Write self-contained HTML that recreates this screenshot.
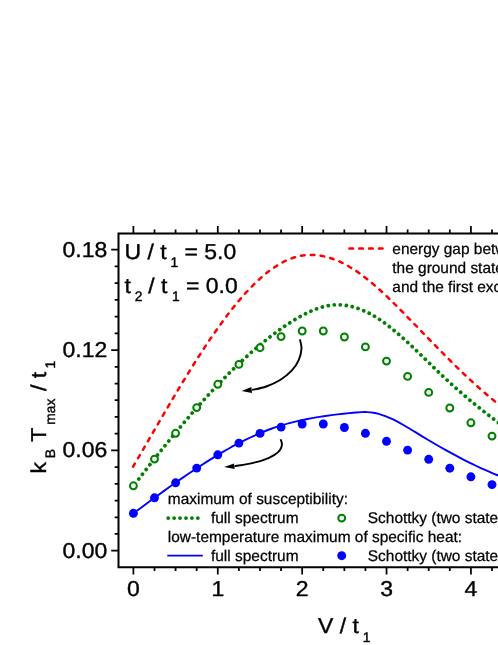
<!DOCTYPE html>
<html><head><meta charset="utf-8"><title>chart</title>
<style>
html,body{margin:0;padding:0;background:#fff;}
body{width:498px;height:645px;overflow:hidden;font-family:"Liberation Sans",sans-serif;}
svg{display:block;will-change:transform;opacity:0.9999;}
text{font-family:"Liberation Sans",sans-serif;fill:#000;stroke:#000;stroke-width:0.4px;text-rendering:geometricPrecision;}
.lg{stroke-width:0.25px;}
g text{white-space:pre;}
</style></head><body>
<svg width="498" height="645" viewBox="0 0 498 645">
<rect width="498" height="645" fill="#fff"/>

<path d="M133.00 466.77 C134.00 465.06 137.00 459.94 139.00 456.51 C141.00 453.08 143.00 449.64 145.00 446.20 C147.00 442.76 149.00 439.32 151.00 435.88 C153.00 432.44 155.00 428.99 157.00 425.56 C159.00 422.13 161.00 418.70 163.00 415.29 C165.00 411.87 167.00 408.47 169.00 405.08 C171.00 401.69 173.00 398.32 175.00 394.97 C177.00 391.62 179.00 388.28 181.00 384.98 C183.00 381.68 185.00 378.39 187.00 375.14 C189.00 371.90 191.00 368.67 193.00 365.49 C195.00 362.31 197.00 359.15 199.00 356.05 C201.00 352.94 203.00 349.86 205.00 346.84 C207.00 343.81 209.00 340.83 211.00 337.90 C213.00 334.97 215.00 332.08 217.00 329.26 C219.00 326.43 221.00 323.65 223.00 320.94 C225.00 318.23 227.00 315.57 229.00 312.98 C231.00 310.39 233.00 307.86 235.00 305.40 C237.00 302.94 239.00 300.55 241.00 298.23 C243.00 295.92 245.00 293.68 247.00 291.51 C249.00 289.35 251.00 287.26 253.00 285.27 C255.00 283.27 257.00 281.35 259.00 279.52 C261.00 277.69 263.00 275.95 265.00 274.30 C267.00 272.66 269.00 271.10 271.00 269.65 C273.00 268.20 275.00 266.84 277.00 265.58 C279.00 264.33 281.00 263.18 283.00 262.14 C285.00 261.10 287.00 260.16 289.00 259.34 C291.00 258.52 293.00 257.81 295.00 257.22 C297.00 256.63 299.00 256.16 301.00 255.79 C303.00 255.43 305.00 255.18 307.00 255.04 C309.00 254.90 311.00 254.87 313.00 254.94 C315.00 255.01 317.00 255.18 319.00 255.46 C321.00 255.73 323.00 256.10 325.00 256.57 C327.00 257.04 329.00 257.61 331.00 258.26 C333.00 258.91 335.00 259.66 337.00 260.49 C339.00 261.33 341.00 262.25 343.00 263.25 C345.00 264.25 347.00 265.34 349.00 266.50 C351.00 267.67 353.00 268.91 355.00 270.23 C357.00 271.54 359.00 272.94 361.00 274.40 C363.00 275.86 365.00 277.39 367.00 278.98 C369.00 280.56 371.00 282.22 373.00 283.92 C375.00 285.62 377.00 287.38 379.00 289.18 C381.00 290.97 383.00 292.82 385.00 294.70 C387.00 296.58 389.00 298.50 391.00 300.45 C393.00 302.39 395.00 304.37 397.00 306.37 C399.00 308.36 401.00 310.38 403.00 312.41 C405.00 314.44 407.00 316.49 409.00 318.54 C411.00 320.58 413.00 322.64 415.00 324.70 C417.00 326.75 419.00 328.82 421.00 330.88 C423.00 332.93 425.00 335.00 427.00 337.05 C429.00 339.11 431.00 341.16 433.00 343.21 C435.00 345.25 437.00 347.30 439.00 349.33 C441.00 351.36 443.00 353.38 445.00 355.39 C447.00 357.40 449.00 359.40 451.00 361.38 C453.00 363.37 455.00 365.34 457.00 367.28 C459.00 369.23 461.00 371.17 463.00 373.08 C465.00 374.99 467.00 376.88 469.00 378.74 C471.00 380.61 473.00 382.45 475.00 384.27 C477.00 386.08 479.00 387.87 481.00 389.63 C483.00 391.39 485.00 393.12 487.00 394.81 C489.00 396.51 491.00 398.18 493.00 399.80 C495.00 401.43 497.00 403.02 499.00 404.58 C501.00 406.13 503.33 407.88 505.00 409.12 C506.67 410.35 508.33 411.52 509.00 412.01" fill="none" stroke="#ff0000" stroke-width="2.5" stroke-linecap="round" stroke-dasharray="3.7 6.13"/>
<path d="M133.40 486.04 C134.40 484.74 137.40 480.81 139.40 478.22 C141.40 475.62 143.40 473.03 145.40 470.45 C147.40 467.88 149.40 465.32 151.40 462.77 C153.40 460.22 155.40 457.69 157.40 455.17 C159.40 452.65 161.40 450.15 163.40 447.66 C165.40 445.17 167.40 442.70 169.40 440.24 C171.40 437.79 173.40 435.35 175.40 432.93 C177.40 430.51 179.40 428.11 181.40 425.73 C183.40 423.35 185.40 420.99 187.40 418.65 C189.40 416.31 191.40 413.99 193.40 411.69 C195.40 409.40 197.40 407.12 199.40 404.87 C201.40 402.62 203.40 400.39 205.40 398.18 C207.40 395.98 209.40 393.80 211.40 391.64 C213.40 389.49 215.40 387.36 217.40 385.25 C219.40 383.15 221.40 381.07 223.40 379.03 C225.40 376.98 227.40 374.96 229.40 372.97 C231.40 370.97 233.40 369.01 235.40 367.08 C237.40 365.15 239.40 363.24 241.40 361.37 C243.40 359.50 245.40 357.66 247.40 355.86 C249.40 354.05 251.40 352.27 253.40 350.53 C255.40 348.79 257.40 347.08 259.40 345.41 C261.40 343.74 263.40 342.10 265.40 340.50 C267.40 338.90 269.40 337.33 271.40 335.80 C273.40 334.27 275.40 332.78 277.40 331.33 C279.40 329.87 281.40 328.46 283.40 327.08 C285.40 325.71 287.40 324.37 289.40 323.08 C291.40 321.78 293.40 320.52 295.40 319.32 C297.40 318.11 299.40 316.95 301.40 315.85 C303.40 314.76 305.40 313.71 307.40 312.75 C309.40 311.79 311.40 310.88 313.40 310.07 C315.40 309.26 317.40 308.52 319.40 307.88 C321.40 307.24 323.40 306.68 325.40 306.24 C327.40 305.80 329.40 305.45 331.40 305.22 C333.40 304.99 335.40 304.87 337.40 304.85 C339.40 304.84 341.40 304.94 343.40 305.13 C345.40 305.33 347.40 305.64 349.40 306.05 C351.40 306.45 353.40 306.96 355.40 307.57 C357.40 308.18 359.40 308.88 361.40 309.68 C363.40 310.49 365.40 311.39 367.40 312.38 C369.40 313.36 371.40 314.45 373.40 315.62 C375.40 316.79 377.40 318.05 379.40 319.39 C381.40 320.72 383.40 322.14 385.40 323.61 C387.40 325.09 389.40 326.64 391.40 328.24 C393.40 329.84 395.40 331.51 397.40 333.22 C399.40 334.93 401.40 336.69 403.40 338.49 C405.40 340.28 407.40 342.12 409.40 343.98 C411.40 345.84 413.40 347.74 415.40 349.65 C417.40 351.56 419.40 353.50 421.40 355.44 C423.40 357.37 425.40 359.33 427.40 361.28 C429.40 363.23 431.40 365.18 433.40 367.12 C435.40 369.06 437.40 371.00 439.40 372.90 C441.40 374.81 443.40 376.71 445.40 378.57 C447.40 380.43 449.40 382.27 451.40 384.08 C453.40 385.90 455.40 387.68 457.40 389.45 C459.40 391.21 461.40 392.95 463.40 394.66 C465.40 396.38 467.40 398.07 469.40 399.75 C471.40 401.42 473.40 403.07 475.40 404.70 C477.40 406.34 479.40 407.95 481.40 409.54 C483.40 411.14 485.40 412.72 487.40 414.28 C489.40 415.84 491.40 417.38 493.40 418.91 C495.40 420.44 497.40 421.95 499.40 423.45 C501.40 424.95 503.63 426.60 505.40 427.91 C507.17 429.21 509.23 430.71 510.00 431.28" fill="none" stroke="#008000" stroke-width="3.8" stroke-linecap="round" stroke-dasharray="0.01 6.05" stroke-dashoffset="-2.8"/>
<path d="M133.40 513.31 C134.40 512.57 137.40 510.37 139.40 508.90 C141.40 507.42 143.40 505.95 145.40 504.49 C147.40 503.02 149.40 501.55 151.40 500.09 C153.40 498.63 155.40 497.17 157.40 495.72 C159.40 494.26 161.40 492.81 163.40 491.37 C165.40 489.93 167.40 488.50 169.40 487.07 C171.40 485.64 173.40 484.22 175.40 482.82 C177.40 481.41 179.40 480.01 181.40 478.62 C183.40 477.23 185.40 475.86 187.40 474.49 C189.40 473.13 191.40 471.78 193.40 470.44 C195.40 469.10 197.40 467.78 199.40 466.47 C201.40 465.17 203.40 463.87 205.40 462.60 C207.40 461.33 209.40 460.07 211.40 458.83 C213.40 457.59 215.40 456.37 217.40 455.17 C219.40 453.97 221.40 452.79 223.40 451.63 C225.40 450.48 227.40 449.34 229.40 448.23 C231.40 447.11 233.40 446.02 235.40 444.96 C237.40 443.89 239.40 442.85 241.40 441.84 C243.40 440.82 245.40 439.83 247.40 438.87 C249.40 437.91 251.40 436.98 253.40 436.08 C255.40 435.17 257.40 434.30 259.40 433.45 C261.40 432.61 263.40 431.79 265.40 431.01 C267.40 430.23 269.40 429.48 271.40 428.77 C273.40 428.05 275.40 427.37 277.40 426.71 C279.40 426.06 281.40 425.44 283.40 424.85 C285.40 424.25 287.40 423.69 289.40 423.15 C291.40 422.61 293.40 422.10 295.40 421.62 C297.40 421.13 299.40 420.67 301.40 420.23 C303.40 419.79 305.40 419.38 307.40 418.98 C309.40 418.59 311.40 418.21 313.40 417.86 C315.40 417.50 317.40 417.17 319.40 416.85 C321.40 416.53 323.40 416.23 325.40 415.94 C327.40 415.65 329.40 415.38 331.40 415.12 C333.40 414.86 335.40 414.61 337.40 414.37 C339.40 414.14 341.40 413.91 343.40 413.70 C345.40 413.48 347.40 413.27 349.40 413.07 C351.40 412.87 353.40 412.66 355.40 412.50 C357.40 412.35 359.40 412.18 361.40 412.12 C363.40 412.06 365.40 412.03 367.40 412.13 C369.40 412.23 371.40 412.41 373.40 412.73 C375.40 413.05 377.40 413.51 379.40 414.06 C381.40 414.62 383.40 415.30 385.40 416.06 C387.40 416.82 389.40 417.69 391.40 418.61 C393.40 419.54 395.40 420.56 397.40 421.62 C399.40 422.67 401.40 423.80 403.40 424.95 C405.40 426.10 407.40 427.31 409.40 428.51 C411.40 429.72 413.40 430.96 415.40 432.18 C417.40 433.41 419.40 434.64 421.40 435.85 C423.40 437.06 425.40 438.27 427.40 439.46 C429.40 440.65 431.40 441.84 433.40 443.01 C435.40 444.18 437.40 445.34 439.40 446.48 C441.40 447.63 443.40 448.76 445.40 449.88 C447.40 451.00 449.40 452.11 451.40 453.20 C453.40 454.29 455.40 455.36 457.40 456.42 C459.40 457.48 461.40 458.52 463.40 459.55 C465.40 460.57 467.40 461.58 469.40 462.57 C471.40 463.56 473.40 464.54 475.40 465.49 C477.40 466.44 479.40 467.37 481.40 468.29 C483.40 469.20 485.40 470.09 487.40 470.96 C489.40 471.83 491.40 472.68 493.40 473.51 C495.40 474.34 497.40 475.14 499.40 475.92 C501.40 476.70 503.63 477.54 505.40 478.19 C507.17 478.84 509.23 479.56 510.00 479.83" fill="none" stroke="#0000ff" stroke-width="1.9"/>
<circle cx="133.4" cy="485.8" r="3.45" fill="#fff" stroke="#008000" stroke-width="2"/>
<circle cx="154.5" cy="459.1" r="3.45" fill="#fff" stroke="#008000" stroke-width="2"/>
<circle cx="175.6" cy="433.3" r="3.45" fill="#fff" stroke="#008000" stroke-width="2"/>
<circle cx="196.7" cy="407.6" r="3.45" fill="#fff" stroke="#008000" stroke-width="2"/>
<circle cx="217.8" cy="384.3" r="3.45" fill="#fff" stroke="#008000" stroke-width="2"/>
<circle cx="238.9" cy="364.4" r="3.45" fill="#fff" stroke="#008000" stroke-width="2"/>
<circle cx="260.0" cy="347.7" r="3.45" fill="#fff" stroke="#008000" stroke-width="2"/>
<circle cx="281.1" cy="336.6" r="3.45" fill="#fff" stroke="#008000" stroke-width="2"/>
<circle cx="302.2" cy="331.0" r="3.45" fill="#fff" stroke="#008000" stroke-width="2"/>
<circle cx="323.3" cy="331.0" r="3.45" fill="#fff" stroke="#008000" stroke-width="2"/>
<circle cx="344.4" cy="337.0" r="3.45" fill="#fff" stroke="#008000" stroke-width="2"/>
<circle cx="365.4" cy="346.9" r="3.45" fill="#fff" stroke="#008000" stroke-width="2"/>
<circle cx="386.5" cy="361.1" r="3.45" fill="#fff" stroke="#008000" stroke-width="2"/>
<circle cx="407.6" cy="376.4" r="3.45" fill="#fff" stroke="#008000" stroke-width="2"/>
<circle cx="428.7" cy="392.4" r="3.45" fill="#fff" stroke="#008000" stroke-width="2"/>
<circle cx="449.8" cy="408.0" r="3.45" fill="#fff" stroke="#008000" stroke-width="2"/>
<circle cx="470.9" cy="422.8" r="3.45" fill="#fff" stroke="#008000" stroke-width="2"/>
<circle cx="492.0" cy="436.1" r="3.45" fill="#fff" stroke="#008000" stroke-width="2"/>
<circle cx="513.1" cy="448.0" r="3.45" fill="#fff" stroke="#008000" stroke-width="2"/>
<circle cx="133.4" cy="513.3" r="4.45" fill="#0000ff"/>
<circle cx="154.5" cy="497.8" r="4.45" fill="#0000ff"/>
<circle cx="175.6" cy="482.8" r="4.45" fill="#0000ff"/>
<circle cx="196.7" cy="468.1" r="4.45" fill="#0000ff"/>
<circle cx="217.8" cy="454.8" r="4.45" fill="#0000ff"/>
<circle cx="238.9" cy="443.1" r="4.45" fill="#0000ff"/>
<circle cx="260.0" cy="433.4" r="4.45" fill="#0000ff"/>
<circle cx="281.1" cy="427.1" r="4.45" fill="#0000ff"/>
<circle cx="302.2" cy="424.0" r="4.45" fill="#0000ff"/>
<circle cx="323.3" cy="424.0" r="4.45" fill="#0000ff"/>
<circle cx="344.4" cy="427.5" r="4.45" fill="#0000ff"/>
<circle cx="365.4" cy="433.3" r="4.45" fill="#0000ff"/>
<circle cx="386.5" cy="441.3" r="4.45" fill="#0000ff"/>
<circle cx="407.6" cy="450.1" r="4.45" fill="#0000ff"/>
<circle cx="428.7" cy="459.3" r="4.45" fill="#0000ff"/>
<circle cx="449.8" cy="468.2" r="4.45" fill="#0000ff"/>
<circle cx="470.9" cy="476.8" r="4.45" fill="#0000ff"/>
<circle cx="492.0" cy="484.6" r="4.45" fill="#0000ff"/>
<circle cx="513.1" cy="491.5" r="4.45" fill="#0000ff"/>
<path d="M299.90 339.30 C300.17 340.85 301.70 345.12 301.50 348.60 C301.30 352.08 300.33 356.52 298.70 360.20 C297.07 363.88 294.80 367.40 291.70 370.70 C288.60 374.00 284.35 377.37 280.10 380.00 C275.85 382.63 270.85 384.83 266.20 386.50 C261.55 388.17 254.53 389.42 252.20 390.00" fill="none" stroke="#000" stroke-width="1.9"/>
<path d="M241.6 391.1 L251.4 386.9 L252 393 Z" fill="#000"/>
<path d="M280.60 439.20 C280.82 439.93 281.80 442.20 281.90 443.60 C282.00 445.00 281.75 446.27 281.20 447.60 C280.65 448.93 279.73 450.38 278.60 451.60 C277.47 452.82 276.00 453.85 274.40 454.90 C272.80 455.95 270.87 457.03 269.00 457.90 C267.13 458.77 265.53 459.35 263.20 460.10 C260.87 460.85 257.68 461.73 255.00 462.40 C252.32 463.07 250.52 463.47 247.10 464.10 C243.68 464.73 236.60 465.85 234.50 466.20" fill="none" stroke="#000" stroke-width="1.9"/>
<path d="M224.1 467 L234 463.4 L234.7 469.1 Z" fill="#000"/>
<path d="M520.0 233.4 H118.5 V567.3 H520.0" fill="none" stroke="#000" stroke-width="2"/>
<path d="M133.40 567.3 v7.3 M133.40 233.4 v-7.3 M154.50 567.3 v3.8 M154.50 233.4 v-3.8 M175.59 567.3 v3.8 M175.59 233.4 v-3.8 M196.69 567.3 v3.8 M196.69 233.4 v-3.8 M217.78 567.3 v7.3 M217.78 233.4 v-7.3 M238.88 567.3 v3.8 M238.88 233.4 v-3.8 M259.97 567.3 v3.8 M259.97 233.4 v-3.8 M281.06 567.3 v3.8 M281.06 233.4 v-3.8 M302.16 567.3 v7.3 M302.16 233.4 v-7.3 M323.25 567.3 v3.8 M323.25 233.4 v-3.8 M344.35 567.3 v3.8 M344.35 233.4 v-3.8 M365.44 567.3 v3.8 M365.44 233.4 v-3.8 M386.54 567.3 v7.3 M386.54 233.4 v-7.3 M407.63 567.3 v3.8 M407.63 233.4 v-3.8 M428.73 567.3 v3.8 M428.73 233.4 v-3.8 M449.82 567.3 v3.8 M449.82 233.4 v-3.8 M470.92 567.3 v7.3 M470.92 233.4 v-7.3 M492.01 567.3 v3.8 M492.01 233.4 v-3.8 M513.11 567.3 v3.8 M513.11 233.4 v-3.8 M118.5 550.70 h-7.3 M118.5 533.98 h-3.8 M118.5 517.26 h-3.8 M118.5 500.54 h-3.8 M118.5 483.82 h-3.8 M118.5 467.10 h-3.8 M118.5 450.38 h-7.3 M118.5 433.66 h-3.8 M118.5 416.94 h-3.8 M118.5 400.22 h-3.8 M118.5 383.50 h-3.8 M118.5 366.78 h-3.8 M118.5 350.06 h-7.3 M118.5 333.34 h-3.8 M118.5 316.62 h-3.8 M118.5 299.90 h-3.8 M118.5 283.18 h-3.8 M118.5 266.46 h-3.8 M118.5 249.74 h-7.3" fill="none" stroke="#000" stroke-width="1.75"/>
<text transform="translate(133.40 595.70) scale(1 0.935)" font-size="23" text-anchor="middle">0</text>
<text transform="translate(217.78 595.70) scale(1 0.935)" font-size="23" text-anchor="middle">1</text>
<text transform="translate(302.16 595.70) scale(1 0.935)" font-size="23" text-anchor="middle">2</text>
<text transform="translate(386.54 595.70) scale(1 0.935)" font-size="23" text-anchor="middle">3</text>
<text transform="translate(470.92 595.70) scale(1 0.935)" font-size="23" text-anchor="middle">4</text>
<text transform="translate(107.30 557.65) scale(1 0.935)" font-size="23" text-anchor="end">0.00</text>
<text transform="translate(107.30 457.33) scale(1 0.935)" font-size="23" text-anchor="end">0.06</text>
<text transform="translate(107.30 357.01) scale(1 0.935)" font-size="23" text-anchor="end">0.12</text>
<text transform="translate(107.30 256.69) scale(1 0.935)" font-size="23" text-anchor="end">0.18</text>
<g transform="translate(124.40 258.50)" style="font-kerning:none"><text transform="translate(0.00 0) scale(1 0.935)" font-size="23" xml:space="preserve">U / t</text><text x="42.18" y="8.6" font-size="13.8" xml:space="preserve"> 1</text><text transform="translate(53.69 0) scale(1 0.935)" font-size="23" xml:space="preserve"> = 5.0</text></g>
<g transform="translate(124.60 292.80)" style="font-kerning:none"><text transform="translate(0.00 0) scale(1 0.935)" font-size="23" xml:space="preserve">t</text><text x="6.39" y="8.6" font-size="13.8" xml:space="preserve"> 2</text><text transform="translate(17.20 0) scale(1 0.935)" font-size="23" xml:space="preserve"> / t</text><text x="43.48" y="8.6" font-size="13.8" xml:space="preserve"> 1</text><text transform="translate(54.99 0) scale(1 0.935)" font-size="23" xml:space="preserve"> = 0.0</text></g>
<g transform="translate(318.10 633.20)" style="font-kerning:none"><text transform="translate(0.00 0) scale(1 0.935)" font-size="23" xml:space="preserve">V / t</text><text x="40.92" y="8.6" font-size="13.8" xml:space="preserve"> 1</text></g>
<g transform="translate(45.90 473.50) rotate(-90)" style="font-kerning:none"><text transform="translate(0.00 0) scale(1 0.935)" font-size="23" xml:space="preserve">k</text><text x="11.50" y="8.6" font-size="13.8" xml:space="preserve"> B</text><text transform="translate(25.24 0) scale(1 0.935)" font-size="23" xml:space="preserve"> T</text><text x="44.99" y="8.6" font-size="13.8" xml:space="preserve"> max</text><text transform="translate(76.19 0) scale(1 0.935)" font-size="23" xml:space="preserve"> / t</text><text x="101.17" y="8.6" font-size="13.8" xml:space="preserve"> 1</text></g>
<path d="M349.4 248.5 H382.7" stroke="#ff0000" stroke-width="2.5" stroke-linecap="round" stroke-dasharray="3.7 6.13" fill="none"/>
<text class="lg" x="392.3" y="253.6" font-size="15.45">energy gap between</text>
<text class="lg" x="392.3" y="272.9" font-size="15.45">the ground state</text>
<text class="lg" x="392.3" y="291.5" font-size="15.45">and the first excited</text>
<text class="lg" x="167.8" y="503.6" font-size="15.45">maximum of susceptibility:</text>
<path d="M168.2 518.1 H198.5" stroke="#008000" stroke-width="3.8" stroke-linecap="round" stroke-dasharray="0.01 5.92" fill="none"/>
<text class="lg" x="211" y="522.7" font-size="15.45">full spectrum</text>
<circle cx="341.7" cy="518.1" r="3.45" fill="#fff" stroke="#008000" stroke-width="2"/>
<text class="lg" x="367.8" y="522.7" font-size="15.45">Schottky (two states)</text>
<text class="lg" x="167.8" y="541.8" font-size="15.45">low-temperature maximum of specific heat:</text>
<path d="M167.3 555.6 H202.8" stroke="#0000ff" stroke-width="1.9" fill="none"/>
<text class="lg" x="211" y="560.6" font-size="15.45">full spectrum</text>
<circle cx="341.7" cy="555.7" r="4.45" fill="#0000ff"/>
<text class="lg" x="367.8" y="560.6" font-size="15.45">Schottky (two states)</text>
</svg></body></html>
